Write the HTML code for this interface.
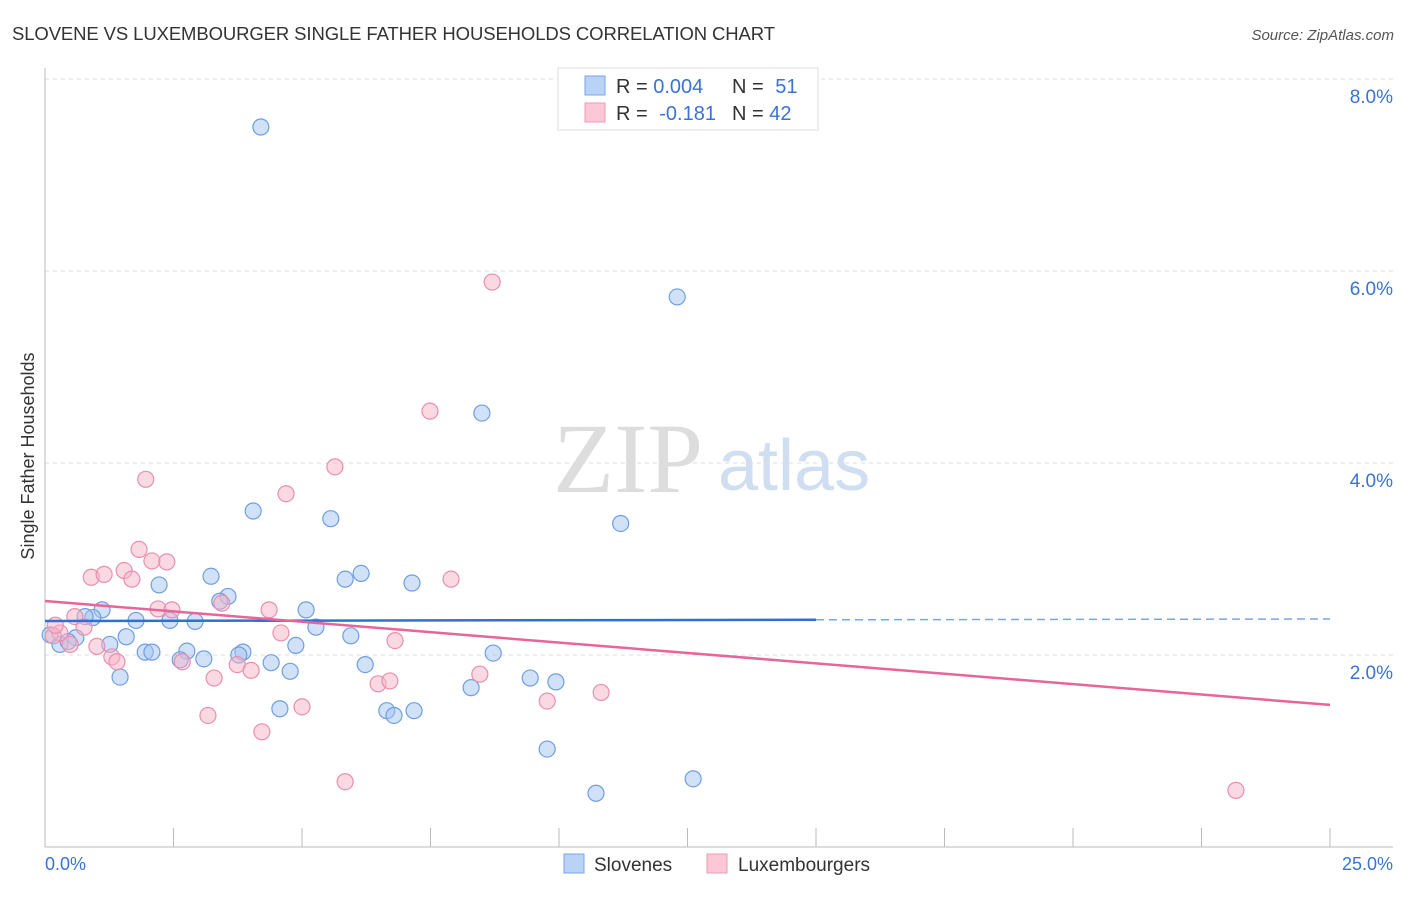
<!DOCTYPE html>
<html><head><meta charset="utf-8"><style>
body{margin:0;background:#fff;font-family:"Liberation Sans",sans-serif;}
svg text{font-family:"Liberation Sans",sans-serif;}
svg text.serif{font-family:"Liberation Serif",serif;}
</style></head><body>
<svg id="chart" width="1406" height="892">
<text x="12" y="40" font-size="18.5" fill="#333" textLength="763">SLOVENE VS LUXEMBOURGER SINGLE FATHER HOUSEHOLDS CORRELATION CHART</text>
<text x="1394" y="40" font-size="15" fill="#555" font-style="italic" text-anchor="end">Source: ZipAtlas.com</text>
<text x="34" y="456" font-size="18" fill="#333" text-anchor="middle" transform="rotate(-90 34 456)">Single Father Households</text>
<text class="serif" x="553" y="492" font-size="100" fill="#ddd">ZIP</text>
<text x="718" y="490" font-size="72" fill="#d0def2">atlas</text>
<g id="grid"></g>
<g id="axes"></g>
<g id="pts"></g>
<g id="lines"></g>
<g>
<rect x="558" y="68" width="260" height="62" fill="#fff" stroke="#ddd"/>
<rect x="585" y="76" width="20" height="19" fill="#b8d3f5" stroke="#7aa6e4"/>
<rect x="585" y="103" width="20" height="19" fill="#fcc7d6" stroke="#eb9ab5"/>
<text x="616" y="93" font-size="20" fill="#333">R = <tspan fill="#3a73d1">0.004</tspan></text>
<text x="732" y="93" font-size="20" fill="#333">N = <tspan fill="#3a73d1" dx="6">51</tspan></text>
<text x="616" y="120" font-size="20" fill="#333">R = <tspan fill="#3a73d1" dx="6">-0.181</tspan></text>
<text x="732" y="120" font-size="20" fill="#333">N = <tspan fill="#3a73d1">42</tspan></text>
</g>
<g>
<rect x="564" y="854" width="20" height="19" fill="#b8d3f5" stroke="#7aa6e4"/>
<text x="594" y="871" font-size="19" fill="#333">Slovenes</text>
<rect x="707" y="854" width="20" height="19" fill="#fcc7d6" stroke="#eb9ab5"/>
<text x="738" y="871" font-size="19" fill="#333">Luxembourgers</text>
</g>
</svg>
<script>
const yTicks=[2,4,6,8];
const yTickLabels=["2.0%","4.0%","6.0%","8.0%"];
const xTickLabels=["0.0%","25.0%"];
const sloveneX=[4.2,12.3,8.5,4.05,11.2,5.56,6.15,5.84,7.14,3.23,2.22,3.56,3.4,1.11,0.93,0.78,5.08,1.77,2.43,2.92,5.27,1.58,5.95,0.6,0.29,0.45,4.88,1.26,1.95,2.08,2.76,3.85,3.77,3.09,2.63,8.72,4.4,6.23,4.77,1.46,9.44,9.94,8.29,4.57,6.65,7.18,6.79,9.77,12.61,10.72,0.1];
const sloveneY=[7.5,5.73,4.52,3.5,3.37,3.42,2.85,2.79,2.75,2.82,2.73,2.61,2.56,2.47,2.39,2.4,2.47,2.36,2.36,2.35,2.29,2.19,2.2,2.18,2.11,2.14,2.1,2.11,2.03,2.03,2.04,2.03,2.0,1.96,1.95,2.02,1.92,1.9,1.83,1.77,1.76,1.72,1.66,1.44,1.42,1.42,1.37,1.02,0.71,0.56,2.21];
const luxX=[8.7,7.49,5.64,1.96,4.69,1.83,2.08,2.37,0.9,1.15,1.54,1.69,7.9,3.44,2.2,2.47,4.36,0.58,0.76,0.29,0.16,0.49,1.01,1.3,1.4,2.67,4.59,6.81,3.74,4.01,8.46,3.29,6.48,6.71,10.82,5.0,9.77,3.17,4.22,5.84,23.17,0.2];
const luxY=[5.885,4.54,3.96,3.83,3.68,3.1,2.98,2.97,2.81,2.84,2.88,2.79,2.79,2.54,2.48,2.47,2.47,2.4,2.29,2.23,2.2,2.11,2.09,1.98,1.93,1.93,2.23,2.15,1.9,1.84,1.8,1.76,1.7,1.73,1.61,1.46,1.52,1.37,1.2,0.68,0.59,2.31];
const sloveneTrend=[2.354,2.375];
const luxTrend=[2.5625,1.48];
const ns="http://www.w3.org/2000/svg";
const X0=45,X1=1330,Y0=847,PXPCT=96;
const xs=v=>X0+(X1-X0)*v/25;
const ys=v=>Y0-v*PXPCT;
function mk(tag,attrs,parent){const e=document.createElementNS(ns,tag);for(const k in attrs)e.setAttribute(k,attrs[k]);document.getElementById(parent).appendChild(e);return e;}
yTicks.forEach((t,i)=>{
 const l=mk('line',{x1:X0,x2:1393,y1:ys(t),y2:ys(t),stroke:'#ddd','stroke-dasharray':'4,4'},'grid');
 
 
 const tx=mk('text',{x:1393,y:ys(t)+24,'font-size':19,fill:'#3a73d1','text-anchor':'end'},'grid');
 tx.textContent=yTickLabels[i];
 
 
});
let a=mk('line',{x1:X0,x2:X0,y1:68,y2:Y0,stroke:'#bbb'},'axes');


a=mk('line',{x1:X0,x2:1393,y1:Y0,y2:Y0,stroke:'#bbb'},'axes');


for(let i=0;i<=10;i++){
 const t=mk('line',{x1:xs(i*2.5),x2:xs(i*2.5),y1:828,y2:Y0,stroke:'#bbb'},'axes');
 
 
}
[[0,'start',45],[25,'end',1393]].forEach((d,i)=>{
 const tx=mk('text',{x:d[2],y:870,'font-size':18,fill:'#3a73d1','text-anchor':d[1]},'axes');
 tx.textContent=xTickLabels[i];
 
 
});
sloveneX.forEach((v,i)=>{
 const c=mk('circle',{cx:xs(v),cy:ys(sloveneY[i]),r:8,fill:'rgba(164,196,240,0.5)',stroke:'#6e9fe0','stroke-width':1.2},'pts');
 
 
});
luxX.forEach((v,i)=>{
 const c=mk('circle',{cx:xs(v),cy:ys(luxY[i]),r:8,fill:'rgba(248,180,200,0.5)',stroke:'#e88fae','stroke-width':1.2},'pts');
 
 
});
const sAt=x=>sloveneTrend[0]+(sloveneTrend[1]-sloveneTrend[0])*x/25;
let l=mk('line',{x1:xs(0),y1:ys(sAt(0)),x2:xs(15),y2:ys(sAt(15)),stroke:'#2f6fd6','stroke-width':2.5},'lines');


l=mk('line',{x1:xs(15),y1:ys(sAt(15)),x2:xs(25),y2:ys(sAt(25)),stroke:'#7aa6e4','stroke-width':1.5,'stroke-dasharray':'8,5'},'lines');


l=mk('line',{x1:xs(0),y1:ys(luxTrend[0]),x2:xs(25),y2:ys(luxTrend[1]),stroke:'#e8659a','stroke-width':2.5},'lines');


</script>
</body></html>
